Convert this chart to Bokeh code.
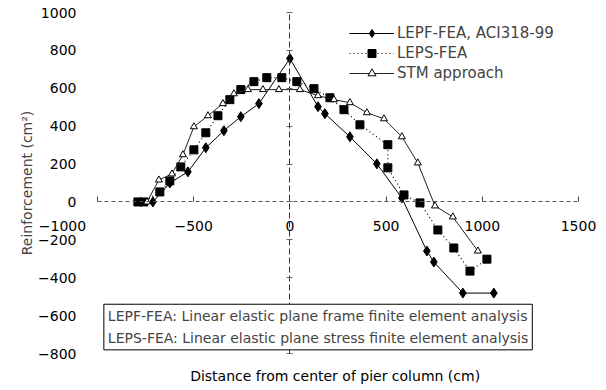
from bokeh.plotting import figure
from bokeh.models import Range1d, FixedTicker, Legend, LegendItem, Label, LinearAxis
from bokeh.embed import file_html
from bokeh.resources import INLINE

# ---- data ----
lepf_x = [-712, -624, -530, -437, -343, -255, -161, 0, 146, 182, 312, 452, 582, 712, 748, 899, 1060]
lepf_y = [0, 100, 159, 286, 376, 450, 519, 757, 503, 466, 344, 201, 21, -259, -317, -481, -481]

leps_x = [-790, -760, -676, -624, -567, -499, -437, -374, -312, -255, -187, -120, -42, 36, 125, 208,
          281, 364, 509, 509, 593, 676, 769, 852, 936, 1024]
leps_y = [0, 0, 53, 111, 185, 275, 365, 455, 540, 593, 635, 656, 656, 635, 598, 550,
          487, 407, 302, 180, 37, -5, -148, -243, -365, -302]

stm_x = [-743, -681, -613, -556, -499, -426, -348, -291, -218, -140, -57, 52, 146, 229, 312,
         400, 489, 582, 665, 754, 847, 977]
stm_y = [0, 116, 148, 249, 397, 455, 519, 571, 593, 593, 593, 593, 561, 540, 524,
         471, 439, 344, 206, -21, -79, -259]

series_names = ["LEPF-FEA, ACI318-99", "LEPS-FEA", "STM approach"]
x_ticks = [-1000, -500, 0, 500, 1000, 1500]
y_ticks = [-800, -600, -400, -200, 0, 200, 400, 600, 800, 1000]
note_lines = ["LEPF-FEA: Linear elastic plane frame finite element analysis",
              "LEPS-FEA: Linear elastic plane stress finite element analysis"]
x_title = "Distance from center of pier column (cm)"
y_title = "Reinforcement (cm\u00b2)"

FONT = "DejaVu Sans"
W, H = 606, 390
# pixel positions of the axis extremes in the picture (layout)
X0_PX, X1_PX = 97, 578
YT_PX, YB_PX = 12, 353
xmin, xmax = x_ticks[0], x_ticks[-1]
ymin, ymax = y_ticks[0], y_ticks[-1]
sx = (X1_PX - X0_PX) / (xmax - xmin)
sy = (YB_PX - YT_PX) / (ymax - ymin)
x_range = Range1d(xmin - X0_PX / sx, xmax + (W - X1_PX) / sx)
y_range = Range1d(ymin - (H - YB_PX) / sy, ymax + YT_PX / sy)


def fmt(v):
    return ("\u2212" + str(-v)) if v < 0 else str(v)


p = figure(width=W, height=H, x_range=x_range, y_range=y_range,
           output_backend="svg", toolbar_location=None,
           min_border_left=0, min_border_right=0, min_border_top=0, min_border_bottom=0)
p.outline_line_color = None
p.grid.visible = False

# x axis at y = 0
xa = p.xaxis[0]
xa.fixed_location = 0
xa.bounds = (xmin, xmax)
xa.ticker = FixedTicker(ticks=x_ticks)
xa.major_label_overrides = {v: ("" if v == xmin else fmt(v)) for v in x_ticks}
xa.axis_line_color = "#555555"
xa.axis_line_dash = "4 3"
xa.major_tick_in = 5
xa.major_tick_out = 0
xa.major_tick_line_color = "#444444"
xa.minor_tick_line_color = None
xa.major_label_standoff = 19
xa.major_label_text_font = FONT
xa.major_label_text_font_size = "14px"
xa.major_label_text_color = "black"

# first x tick label sits further left in the reference
p.add_layout(Label(x=xmin, y=0, x_offset=-35, y_offset=-24, text=fmt(xmin),
                   text_align="center", text_baseline="middle", text_font=FONT,
                   text_font_size="14px", text_color="black"))

# y tick labels at x = -1000
ya = p.yaxis[0]
ya.fixed_location = xmin
ya.bounds = (ymin, ymax)
ya.ticker = FixedTicker(ticks=y_ticks)
ya.major_label_overrides = {v: fmt(v) for v in y_ticks}
ya.axis_line_color = None
ya.major_tick_line_color = None
ya.minor_tick_line_color = None
ya.major_label_standoff = 15
ya.major_label_text_font = FONT
ya.major_label_text_font_size = "14px"
ya.major_label_text_color = "black"
ya.axis_label = y_title
ya.axis_label_text_font = FONT
ya.axis_label_text_font_size = "14px"
ya.axis_label_text_font_style = "normal"
ya.axis_label_standoff = 0

# vertical axis line at x = 0
za = LinearAxis(fixed_location=0, bounds=(ymin, ymax), ticker=FixedTicker(ticks=y_ticks),
                major_label_overrides={v: "" for v in y_ticks}, major_label_text_color=None,
                axis_line_color="#333333", axis_line_dash="6 3",
                major_tick_in=3, major_tick_out=3, major_tick_line_color="#666666",
                minor_tick_line_color=None)
p.add_layout(za, "left")

# series
r1l = p.line(lepf_x, lepf_y, line_color="black", line_width=1)
r1m = p.scatter(lepf_x, lepf_y, marker="diamond", size=10, fill_color="black", line_color="black")
r2l = p.line(leps_x, leps_y, line_color="black", line_width=1.2, line_dash="1 3")
r2m = p.scatter(leps_x, leps_y, marker="square", size=8, fill_color="black", line_color="black")
r3l = p.line(stm_x, stm_y, line_color="#222222", line_width=1)
r3m = p.scatter(stm_x, stm_y, marker="triangle", size=7, fill_color="white", line_color="black")

legend = Legend(items=[LegendItem(label=series_names[0], renderers=[r1l, r1m]),
                       LegendItem(label=series_names[1], renderers=[r2l, r2m]),
                       LegendItem(label=series_names[2], renderers=[r3l, r3m])],
                location=(349, 307), glyph_width=45, glyph_height=20, label_height=20,
                spacing=0, padding=8, margin=0, label_standoff=3,
                border_line_color=None, background_fill_alpha=0,
                label_text_font=FONT, label_text_font_size="15px")
p.add_layout(legend)

# definition box
p.add_layout(Label(x=-967, y=-540, text="\n".join(note_lines), text_align="left", text_baseline="top",
                   text_font=FONT, text_font_size="14px", text_line_height=1.35,
                   border_line_color="black", border_line_width=1,
                   background_fill_color="white", padding=4))

# x axis title
p.add_layout(Label(x=235, y=ymin, y_offset=-22, text=x_title, text_align="center",
                   text_baseline="middle", text_font=FONT, text_font_size="14px",
                   text_color="black"))

open("out.html", "w").write(file_html(p, INLINE))
